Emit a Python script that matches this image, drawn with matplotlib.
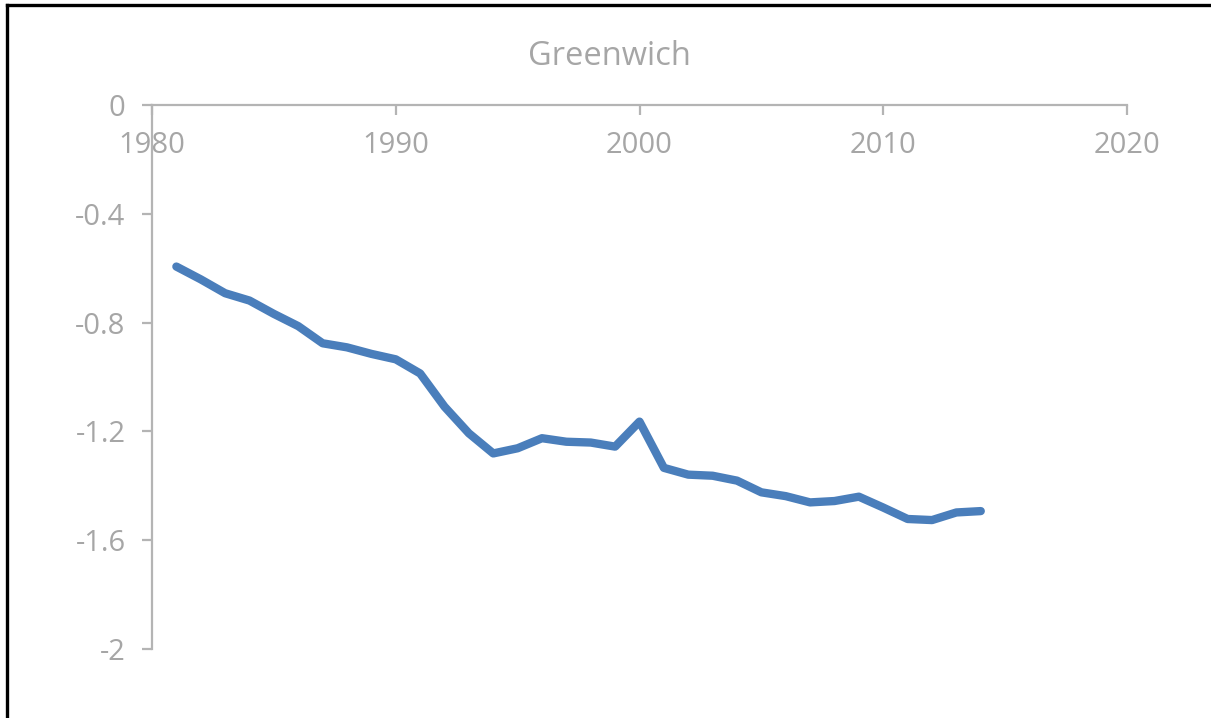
import matplotlib
matplotlib.use("Agg")
import matplotlib.pyplot as plt
from matplotlib.lines import Line2D

title = "Greenwich"
years = list(range(1981, 2015))
values = [-0.594, -0.641, -0.692, -0.719, -0.768, -0.813, -0.876, -0.891, -0.915, -0.935,
          -0.987, -1.109, -1.207, -1.281, -1.262, -1.225, -1.238, -1.241, -1.256, -1.164,
          -1.334, -1.359, -1.363, -1.381, -1.424, -1.438, -1.461, -1.456, -1.440, -1.480,
          -1.522, -1.526, -1.498, -1.493]
x_ticks = [1980, 1990, 2000, 2010, 2020]
y_ticks = [-2, -1.6, -1.2, -0.8, -0.4, 0]
y_tick_labels = ["-2", "-1.6", "-1.2", "-0.8", "-0.4", "0"]

W, H = 1211, 718
fig = plt.figure(figsize=(W / 100, H / 100), dpi=100)
plt.rcParams['font.family'] = ['Open Sans', 'DejaVu Sans']

ax_left, ax_right, ax_top, ax_bottom = 152, 1127, 105, 649
ax = fig.add_axes([ax_left / W, (H - ax_bottom) / H, (ax_right - ax_left) / W, (ax_bottom - ax_top) / H])

line_color = "#4a7ebb"
grey = "#a6a6a6"
spine_grey = "#b4b4b4"

ax.plot(years, values, color=line_color, lw=6.0, solid_capstyle='round', solid_joinstyle='round')

ax.set_xlim(1980, 2020)
ax.set_ylim(-2, 0)
ax.set_xticks(x_ticks)
ax.set_yticks(y_ticks)
ax.set_yticklabels(y_tick_labels)

ax.spines['top'].set_visible(False)
ax.spines['right'].set_visible(False)
ax.spines['bottom'].set_position(('data', 0))
for s in ('left', 'bottom'):
    ax.spines[s].set_color(spine_grey)
    ax.spines[s].set_linewidth(1.6)

ax.tick_params(axis='x', direction='out', length=7, width=1.6, color=spine_grey,
               labelcolor=grey, labelsize=21, pad=12)
ax.tick_params(axis='y', direction='out', length=7, width=1.6, color=spine_grey,
               labelcolor=grey, labelsize=21, pad=12)

fig.text(0.503, (H - 65) / H, title, ha='center', va='baseline', color=grey, fontsize=23.5)

# partial black frame (left and top edges)
lx = 6.5 / W
ty = 1 - 4.5 / H
fig.add_artist(Line2D([lx, lx], [0, ty], transform=fig.transFigure, color='black', lw=2.4,
                      solid_capstyle='projecting'))
fig.add_artist(Line2D([lx, 1.0], [ty, ty], transform=fig.transFigure, color='black', lw=2.4,
                      solid_capstyle='projecting'))

fig.savefig("out.png", dpi=100)
